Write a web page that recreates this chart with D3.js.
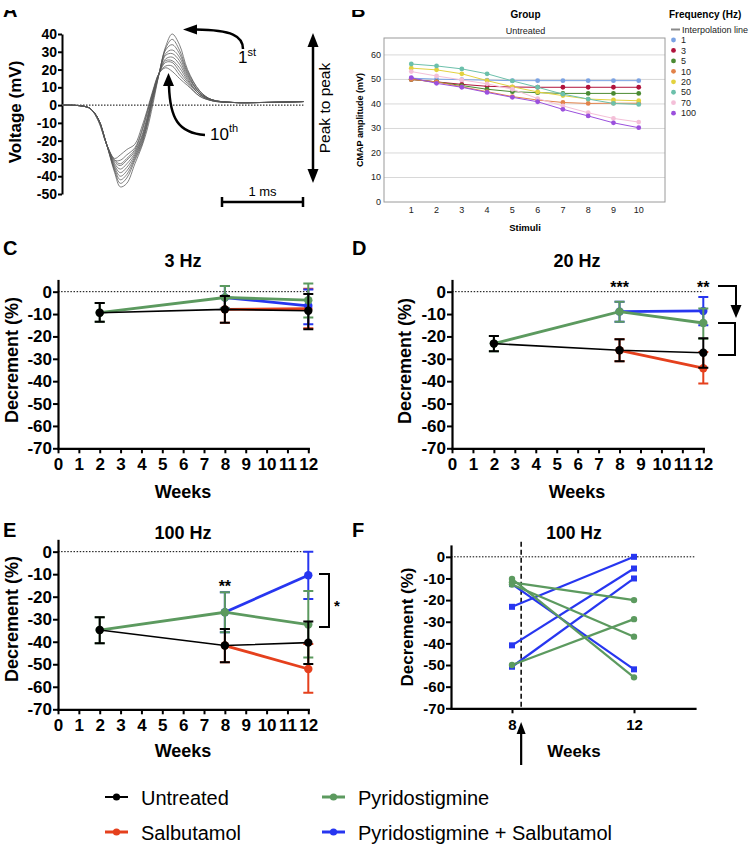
<!DOCTYPE html>
<html><head><meta charset="utf-8">
<script src="https://cdn.jsdelivr.net/npm/d3@7"></script>
<style>body{margin:0;background:#fff}svg{display:block}</style>
</head><body>
<svg id="fig" width="750" height="847"></svg>
<script>
// ================= DATA =================
// Panel A: CMAP waveforms (time in ms, voltage in mV), 1st..10th stimulus
const waveTimes = [0,0.25,0.35,0.45,0.55,0.65,0.72,0.8,0.9,0.98,1.05,1.12,1.2,1.28,1.36,1.45,1.55,1.7,1.85,2.1,2.5,2.98];
const wave1  = [0,-0.5,-2,-8,-22,-38,-46,-44,-33,-24,-14,0,18,33,40,34,20,8,3,1.5,1.5,2];
const wave2  = [0,-0.5,-2,-8,-22,-37,-44,-41,-31,-23,-12,2,18,32,37,31,19,8,3,1.5,1.5,2];
const wave3  = [0,-0.5,-2,-8,-22,-36,-42,-39,-30,-22,-11,3,18,31,34,29,18,7,3,1.5,1.5,2];
const wave4  = [0,-0.5,-2,-8,-22,-35,-40,-37,-29,-21,-10,4,18,29,31,27,17,7,3,1.5,1.5,2];
const wave5  = [0,-0.5,-2,-8,-22,-34,-38,-35,-28,-20,-9,5,18,28,29,25,16,7,3,1.5,1.5,2];
const wave6  = [0,-0.5,-2,-8,-22,-33,-36,-33,-27,-19,-8,5,18,26,27,23,15,6,3,1.5,1.5,2];
const wave7  = [0,-0.5,-2,-8,-22,-32,-34,-31,-26,-18,-7,6,18,25,25,21,14,6,2.5,1.5,1.5,2];
const wave8  = [0,-0.5,-2,-8,-22,-31,-33,-30,-25,-16,-5,7,18,24,24,19,13,6,2.5,1.5,1.5,2];
const wave9  = [0,-0.5,-2,-9,-22,-31,-31,-28,-24,-15,-4,7,18,22,22,17,12,5,2.5,1.5,1.5,2];
const wave10 = [0,-0.5,-2,-9,-22,-30,-28,-25,-22,-13,-3,8,18,21,19,15,11,5,2.5,1.5,1.5,2];
const waveTraces = [wave1,wave2,wave3,wave4,wave5,wave6,wave7,wave8,wave9,wave10];
const voltageTicks = [-50,-40,-30,-20,-10,0,10,20,30,40];

// Panel B: CMAP amplitude per stimulus, by frequency
const stimuli = [1,2,3,4,5,6,7,8,9,10];
const freqLabels = ["1","3","5","10","20","50","70","100"];
const cmap1   = [50.5,50.1,49.9,49.7,49.5,49.5,49.5,49.5,49.5,49.5];
const cmap3   = [50.0,49.0,48.0,47.2,46.9,46.8,46.8,46.8,46.8,46.8];
const cmap5   = [50.0,49.0,47.5,46.0,45.0,44.6,44.3,44.3,44.3,44.3];
const cmap10  = [50.0,49.0,47.0,45.0,43.0,41.6,40.6,40.2,40.3,40.3];
const cmap20  = [54.6,53.9,52.3,49.5,47.0,44.9,43.4,42.0,41.6,41.3];
const cmap50  = [56.3,55.5,54.3,52.3,49.4,46.8,44.0,42.0,40.2,39.8];
const cmap70  = [53.2,51.4,49.8,48.2,46.0,42.2,39.2,36.4,34.1,32.6];
const cmap100 = [50.7,48.4,46.8,44.7,42.7,40.9,37.8,35.1,32.3,30.3];
const cmapSeries = [cmap1,cmap3,cmap5,cmap10,cmap20,cmap50,cmap70,cmap100];
const cmapTicks = [0,10,20,30,40,50,60];

// Panels C-E: decrement (%) mean, upper and lower error ends
const weeks = [2,8,12];
const weeksTreated = [8,12];
const weekTicks = [0,1,2,3,4,5,6,7,8,9,10,11,12];
const decTicks = [-70,-60,-50,-40,-30,-20,-10,0];
const groupNames = ["Untreated","Salbutamol","Pyridostigmine","Pyridostigmine + Salbutamol"];

// C: 3 Hz
const c_untreated = [-9.4,-7.9,-8.5],  c_untreatedHi = [-5.1,-1.9,-1.0],  c_untreatedLo = [-13.4,-13.9,-16.8];
const c_pyr       = [-9.4,-2.6,-3.8],  c_pyrHi       = [-5.1,2.5,3.7],    c_pyrLo       = [-13.4,-7.5,-11.5];
const c_salb      = [-7.9,-7.6],       c_salbHi      = [-1.9,1.3],        c_salbLo      = [-13.9,-16.3];
const c_pyrSalb   = [-2.6,-6.3],       c_pyrSalbHi   = [2.5,1.0],         c_pyrSalbLo   = [-7.5,-14.5];
// D: 20 Hz
const d_untreated = [-23.2,-26.2,-27.3], d_untreatedHi = [-19.8,-21.3,-20.8], d_untreatedLo = [-26.6,-31.1,-34.0];
const d_pyr       = [-23.2,-8.9,-14.0],  d_pyrHi       = [-19.8,-4.5,-7.5],   d_pyrLo       = [-26.6,-13.4,-21.0];
const d_salb      = [-26.2,-34.2],       d_salbHi      = [-21.3,-27.0],       d_salbLo      = [-31.1,-41.0];
const d_pyrSalb   = [-8.9,-8.6],         d_pyrSalbHi   = [-4.5,-2.4],         d_pyrSalbLo   = [-13.4,-15.0];
// E: 100 Hz
const e_untreated = [-34.8,-41.7,-40.4], e_untreatedHi = [-29.1,-34.3,-31.0], e_untreatedLo = [-40.7,-49.1,-49.9];
const e_pyr       = [-34.8,-26.9,-32.4], e_pyrHi       = [-29.1,-18.0,-17.5], e_pyrLo       = [-40.7,-35.8,-47.0];
const e_salb      = [-41.7,-52.1],       e_salbHi      = [-34.3,-41.0],       e_salbLo      = [-49.1,-62.6];
const e_pyrSalb   = [-26.9,-10.5],       e_pyrSalbHi   = [-18.0,0.0],         e_pyrSalbLo   = [-35.8,-21.0];

// F: individual animals, 100 Hz, week 8 -> week 12
const fWeeks = [8,12];
const fPyrSalbWk8  = [-12.6,-23.1,-40.9,-50.8];
const fPyrSalbWk12 = [-52.0,0.0,-5.4,-10.0];
const fPyrWk8      = [-10.2,-11.8,-12.8,-50.0];
const fPyrWk12     = [-55.7,-20.0,-36.9,-28.8];

// ================= STYLE =================
const FONT = '"Liberation Sans", Arial, Helvetica, sans-serif';
const COL = {untreated:"#000000", salb:"#e5401d", pyr:"#5c9a5f", pyrSalb:"#2736f0"};
const freqColors = ["#7aa2e3","#b0133c","#4a8a32","#e2824a","#e3d23f","#6cc0ab","#f4bfd8","#9b50dd"];

const svg = d3.select("#fig").style("font-family", FONT);

function txt(g, x, y, s, size, weight, anchor, extra) {
  const t = g.append("text").attr("x", x).attr("y", y).text(s)
    .attr("font-size", size).attr("font-weight", weight || "normal")
    .attr("text-anchor", anchor || "start").attr("fill", "#000");
  return t;
}
function arrowHead(g, tx, ty, angleDeg, len, wid) {
  const a = angleDeg * Math.PI / 180;
  const bx = tx - len * Math.cos(a), by = ty - len * Math.sin(a);
  const px = -Math.sin(a) * wid / 2, py = Math.cos(a) * wid / 2;
  g.append("path").attr("d", `M${tx},${ty}L${bx+px},${by+py}L${bx-px},${by-py}Z`).attr("fill", "#000");
}

// clip for the cut-off letters at top
svg.append("defs").append("clipPath").attr("id", "topclip")
  .append("rect").attr("x", 0).attr("y", 10).attr("width", 750).attr("height", 30);

// ================= PANEL A =================
{
  const g = svg.append("g");
  txt(g, 3, 17, "A", 20, "bold").attr("clip-path", "url(#topclip)");
  const x = d3.scaleLinear().domain([0, 3]).range([62, 305]);
  const y = d3.scaleLinear().domain([-50, 40]).range([194, 34]);
  const ax = g.append("g").attr("transform", "translate(62,0)")
    .call(d3.axisLeft(y).tickValues(voltageTicks).tickSize(4).tickSizeOuter(0).tickPadding(1).tickFormat(d => String(d)));
  ax.select(".domain").attr("stroke-width", 2);
  ax.selectAll(".tick line").attr("stroke-width", 2);
  ax.selectAll(".tick text").attr("font-family", FONT).attr("font-size", 14).attr("font-weight", "bold").attr("fill", "#000");
  g.append("text").attr("transform", "translate(21,112) rotate(-90)").attr("text-anchor", "middle")
    .attr("font-size", 17).attr("font-weight", "bold").text("Voltage (mV)");
  g.append("line").attr("x1", x(0)).attr("x2", x(2.98)).attr("y1", y(0)).attr("y2", y(0))
    .attr("stroke", "#000").attr("stroke-width", 1).attr("stroke-dasharray", "1.5,1.5");
  const line = d3.line().x((d, i) => x(waveTimes[i])).y(d => y(d)).curve(d3.curveCatmullRom.alpha(0.5));
  g.selectAll("path.wave").data(waveTraces).join("path").attr("class", "wave")
    .attr("d", line).attr("fill", "none").attr("stroke", "#555").attr("stroke-width", 0.75);
  // annotations
  g.append("path").attr("d", "M243,49 C243,36 232,30 196,29.5").attr("fill", "none").attr("stroke", "#000").attr("stroke-width", 2.5);
  arrowHead(g, 183, 29.5, 180, 14, 10);
  txt(g, 238, 63, "1", 17);
  txt(g, 247.5, 56, "st", 11);
  g.append("path").attr("d", "M205,135 C178,133 170,118 169,86").attr("fill", "none").attr("stroke", "#000").attr("stroke-width", 2.5);
  arrowHead(g, 168.5, 73, -90, 13, 11);
  txt(g, 210, 140, "10", 17);
  txt(g, 229, 132, "th", 11);
  g.append("line").attr("x1", 313).attr("x2", 313).attr("y1", 45).attr("y2", 171).attr("stroke", "#000").attr("stroke-width", 2.5);
  arrowHead(g, 313, 33, -90, 14, 11);
  arrowHead(g, 313, 183, 90, 14, 11);
  g.append("text").attr("transform", "translate(330,108) rotate(-90)").attr("text-anchor", "middle")
    .attr("font-size", 15.5).text("Peak to peak");
  g.append("path").attr("d", "M222,197V207M222,202H303M303,197V207").attr("stroke", "#000").attr("stroke-width", 2.5).attr("fill", "none");
  txt(g, 262.5, 196, "1 ms", 13, "normal", "middle");
}

// ================= PANEL B =================
{
  const g = svg.append("g");
  txt(g, 351, 17, "B", 20, "bold").attr("clip-path", "url(#topclip)");
  const x = d3.scaleLinear().domain([0, 11]).range([386, 664]);
  const y = d3.scaleLinear().domain([0, 66.9]).range([202, 38]);
  g.selectAll("line.grid").data(cmapTicks.filter(d => d > 0)).join("line").attr("class", "grid")
    .attr("x1", 384).attr("x2", 665).attr("y1", d => y(d)).attr("y2", d => y(d))
    .attr("stroke", "#d8d8d8").attr("stroke-width", 1);
  g.append("rect").attr("x", 384).attr("y", 38).attr("width", 281).attr("height", 164)
    .attr("fill", "none").attr("stroke", "#9a9a9a").attr("stroke-width", 1);
  g.selectAll("text.yt").data(cmapTicks).join("text").attr("class", "yt")
    .attr("x", 381).attr("y", d => y(d) + 3).attr("text-anchor", "end").attr("font-size", 9).attr("fill", "#222").text(d => d);
  g.selectAll("text.xt").data(stimuli).join("text").attr("class", "xt")
    .attr("x", d => x(d)).attr("y", 213).attr("text-anchor", "middle").attr("font-size", 9).attr("fill", "#222").text(d => d);
  txt(g, 525, 231, "Stimuli", 9.5, "bold", "middle");
  g.append("text").attr("transform", "translate(363,120) rotate(-90)").attr("text-anchor", "middle")
    .attr("font-size", 9).attr("font-weight", "bold").text("CMAP amplitude (mV)");
  txt(g, 525.5, 18, "Group", 10, "bold", "middle");
  txt(g, 525.5, 34, "Untreated", 9, "normal", "middle").attr("fill", "#222");
  const line = d3.line().x((d, i) => x(stimuli[i])).y(d => y(d));
  cmapSeries.forEach((s, k) => {
    g.append("path").attr("d", line(s)).attr("fill", "none").attr("stroke", freqColors[k]).attr("stroke-width", 1);
    g.selectAll(null).data(s).join("circle").attr("cx", (d, i) => x(stimuli[i])).attr("cy", d => y(d))
      .attr("r", 2.4).attr("fill", freqColors[k]);
  });
  // legend
  txt(g, 669, 18, "Frequency (Hz)", 10, "bold");
  g.append("line").attr("x1", 671).attr("x2", 680).attr("y1", 29.5).attr("y2", 29.5).attr("stroke", "#8a8a8a").attr("stroke-width", 2);
  txt(g, 682, 33, "Interpolation line", 9).attr("fill", "#222");
  freqLabels.forEach((f, k) => {
    const yy = 40 + k * 10.45;
    g.append("circle").attr("cx", 673.5).attr("cy", yy).attr("r", 2.4).attr("fill", freqColors[k]);
    txt(g, 681, yy + 3.2, f, 9).attr("fill", "#222");
  });
}

// ================= DECREMENT PANELS =================
function decAxes(g, x, y, xt, fs, titleFs) {
  const ay = g.append("g").attr("transform", `translate(${x.range()[0]},0)`)
    .call(d3.axisLeft(y).tickValues(decTicks).tickSize(5).tickSizeOuter(0).tickPadding(1).tickFormat(d => String(d)));
  const axx = g.append("g").attr("transform", `translate(0,${y(-70)})`)
    .call(d3.axisBottom(x).tickValues(xt).tickSize(5).tickSizeOuter(0).tickFormat(d => String(d)));
  [ay, axx].forEach(a => {
    a.select(".domain").attr("stroke-width", 2.2).attr("stroke-linecap", "square");
    a.selectAll(".tick line").attr("stroke-width", 2);
    a.selectAll(".tick text").attr("font-family", FONT).attr("font-size", fs).attr("font-weight", "bold").attr("fill", "#000");
  });
  axx.selectAll(".tick text").attr("y", 22).attr("dy", 0);
  g.append("line").attr("x1", x.range()[0]).attr("x2", x.range()[1]).attr("y1", y(0)).attr("y2", y(0))
    .attr("stroke", "#000").attr("stroke-width", 1).attr("stroke-dasharray", "1.5,1.6");
}
function decSeries(g, x, y, wk, mean, hi, lo, color, lw) {
  wk.forEach((w, i) => {
    const cx = x(w);
    g.append("path").attr("d", `M${cx},${y(hi[i])}V${y(lo[i])}M${cx-5},${y(hi[i])}H${cx+5}M${cx-5},${y(lo[i])}H${cx+5}`)
      .attr("stroke", color).attr("stroke-width", 2).attr("fill", "none");
  });
  g.append("path").attr("d", d3.line().x((d, i) => x(wk[i])).y(d => y(d))(mean))
    .attr("fill", "none").attr("stroke", color).attr("stroke-width", lw);
  g.selectAll(null).data(mean).join("circle").attr("cx", (d, i) => x(wk[i])).attr("cy", d => y(d))
    .attr("r", 4.2).attr("fill", color);
}
function decLabels(g, cx, titleY, title, weeksY, ylX, ylY, fsT, fsAx) {
  txt(g, cx, titleY, title, fsT, "bold", "middle");
  txt(g, cx, weeksY, "Weeks", fsAx, "bold", "middle");
  g.append("text").attr("transform", `translate(${ylX},${ylY}) rotate(-90)`).attr("text-anchor", "middle")
    .attr("font-size", fsAx).attr("font-weight", "bold").text("Decrement (%)");
}
function groupPanel(g, x, y, d) {
  decAxes(g, x, y, weekTicks, 17);
  decSeries(g, x, y, weeksTreated, d.salb, d.salbHi, d.salbLo, COL.salb, 2.8);
  decSeries(g, x, y, weeksTreated, d.pyrSalb, d.pyrSalbHi, d.pyrSalbLo, COL.pyrSalb, 2.8);
  decSeries(g, x, y, weeks, d.pyr, d.pyrHi, d.pyrLo, COL.pyr, 2.8);
  decSeries(g, x, y, weeks, d.untreated, d.untreatedHi, d.untreatedLo, COL.untreated, 1.6);
}

// C
{
  const g = svg.append("g");
  txt(g, 3, 255, "C", 20, "bold");
  const x = d3.scaleLinear().domain([0, 12]).range([58, 308.3]);
  const y = d3.scaleLinear().domain([-70, 5]).range([448.3, 280.5]);
  groupPanel(g, x, y, {untreated:c_untreated, untreatedHi:c_untreatedHi, untreatedLo:c_untreatedLo,
    pyr:c_pyr, pyrHi:c_pyrHi, pyrLo:c_pyrLo, salb:c_salb, salbHi:c_salbHi, salbLo:c_salbLo,
    pyrSalb:c_pyrSalb, pyrSalbHi:c_pyrSalbHi, pyrSalbLo:c_pyrSalbLo});
  decLabels(g, 183, 267, "3 Hz", 498, 18, 360, 18, 18);
}
// D
{
  const g = svg.append("g");
  txt(g, 352, 255, "D", 20, "bold");
  const x = d3.scaleLinear().domain([0, 12]).range([452, 703.3]);
  const y = d3.scaleLinear().domain([-70, 5]).range([448.3, 280.5]);
  groupPanel(g, x, y, {untreated:d_untreated, untreatedHi:d_untreatedHi, untreatedLo:d_untreatedLo,
    pyr:d_pyr, pyrHi:d_pyrHi, pyrLo:d_pyrLo, salb:d_salb, salbHi:d_salbHi, salbLo:d_salbLo,
    pyrSalb:d_pyrSalb, pyrSalbHi:d_pyrSalbHi, pyrSalbLo:d_pyrSalbLo});
  decLabels(g, 577, 267, "20 Hz", 498, 411, 361, 18, 18);
  txt(g, x(8), 293, "***", 16, "bold", "middle");
  txt(g, x(12), 293, "**", 16, "bold", "middle");
  g.append("path").attr("d", "M718,286H736V306").attr("fill", "none").attr("stroke", "#000").attr("stroke-width", 2);
  arrowHead(g, 736, 318, 90, 13, 11);
  g.append("path").attr("d", "M718,323H735V355H718").attr("fill", "none").attr("stroke", "#000").attr("stroke-width", 2);
}
// E
{
  const g = svg.append("g");
  txt(g, 3, 537, "E", 20, "bold");
  const x = d3.scaleLinear().domain([0, 12]).range([58, 308.3]);
  const y = d3.scaleLinear().domain([-70, 5]).range([709.3, 540.4]);
  groupPanel(g, x, y, {untreated:e_untreated, untreatedHi:e_untreatedHi, untreatedLo:e_untreatedLo,
    pyr:e_pyr, pyrHi:e_pyrHi, pyrLo:e_pyrLo, salb:e_salb, salbHi:e_salbHi, salbLo:e_salbLo,
    pyrSalb:e_pyrSalb, pyrSalbHi:e_pyrSalbHi, pyrSalbLo:e_pyrSalbLo});
  decLabels(g, 183, 539, "100 Hz", 757, 18, 619, 18, 18);
  txt(g, x(8), 592, "**", 16, "bold", "middle");
  g.append("path").attr("d", "M319,574H329V627H319").attr("fill", "none").attr("stroke", "#000").attr("stroke-width", 2);
  txt(g, 337, 611, "*", 15, "bold", "middle");
}
// F
{
  const g = svg.append("g");
  txt(g, 352, 537, "F", 20, "bold");
  const x = d3.scaleLinear().domain([6, 14]).range([451, 695]);
  const y = d3.scaleLinear().domain([-70, 5]).range([708.3, 546]);
  decAxes(g, x, y, fWeeks, 15);
  decLabels(g, 574, 539, "100 Hz", 757, 413, 627, 17.5, 17);
  g.append("line").attr("x1", x(8.3)).attr("x2", x(8.3)).attr("y1", 541.7).attr("y2", y(-70))
    .attr("stroke", "#000").attr("stroke-width", 1.5).attr("stroke-dasharray", "5,3");
  g.append("line").attr("x1", x(8.3)).attr("x2", x(8.3)).attr("y1", 765).attr("y2", 733)
    .attr("stroke", "#000").attr("stroke-width", 2.2);
  arrowHead(g, x(8.3), 722, -90, 12, 9);
  const line = d3.line().x((d, i) => x(fWeeks[i])).y(d => y(d));
  const bluePairs = fPyrSalbWk8.map((v, i) => [v, fPyrSalbWk12[i]]);
  const greenPairs = fPyrWk8.map((v, i) => [v, fPyrWk12[i]]);
  bluePairs.forEach(p => g.append("path").attr("d", line(p)).attr("fill", "none").attr("stroke", COL.pyrSalb).attr("stroke-width", 2.2));
  greenPairs.forEach(p => g.append("path").attr("d", line(p)).attr("fill", "none").attr("stroke", COL.pyr).attr("stroke-width", 2.2));
  bluePairs.forEach(p => p.forEach((v, i) => g.append("rect").attr("x", x(fWeeks[i]) - 3).attr("y", y(v) - 3)
    .attr("width", 6).attr("height", 6).attr("fill", COL.pyrSalb)));
  greenPairs.forEach(p => p.forEach((v, i) => g.append("circle").attr("cx", x(fWeeks[i])).attr("cy", y(v))
    .attr("r", 3.2).attr("fill", COL.pyr)));
}

// ================= LEGEND =================
{
  const g = svg.append("g");
  const legCols = [COL.untreated, COL.salb, COL.pyr, COL.pyrSalb];
  const legX = [105, 105, 322, 322];
  const legY = [797, 832, 797, 832];
  groupNames.forEach((n, k) => {
    g.append("line").attr("x1", legX[k]).attr("x2", legX[k] + 23).attr("y1", legY[k]).attr("y2", legY[k])
      .attr("stroke", legCols[k]).attr("stroke-width", k === 0 ? 2 : 3);
    g.append("circle").attr("cx", legX[k] + 11.5).attr("cy", legY[k]).attr("r", 3.6).attr("fill", legCols[k]);
    txt(g, legX[k] + 36, legY[k] + 8, n, 20);
  });
}
</script>
</body></html>
